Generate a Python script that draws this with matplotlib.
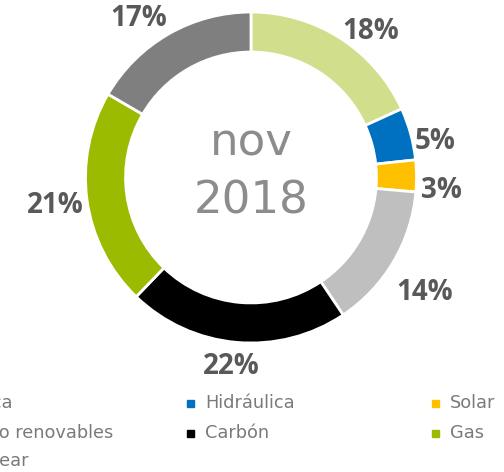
import numpy as np
import matplotlib.pyplot as plt
from matplotlib.patches import Rectangle

fuentes = ['Eólica', 'Hidráulica', 'Solar', 'Resto renovables', 'Carbón', 'Gas', 'Nuclear']
pct = [18.2, 5.1, 3.1, 14.2, 21.6, 21.2, 16.6]
colores = ['#d1df8c', '#0070c0', '#ffc000', '#bfbfbf', '#000000', '#9bbb00', '#7f7f7f']
titulo = ['nov', '2018']

W, H = 504, 472
cx, cy, R = 251, 177.5, 165.5  # donut centre / radius in pixels

fig = plt.figure(figsize=(W / 100, H / 100), dpi=100)
ax = fig.add_axes([(cx - R) / W, (H - cy - R) / H, 2 * R / W, 2 * R / H])

wedges, _ = ax.pie(pct, colors=colores, startangle=90, counterclock=False, radius=1,
                   wedgeprops=dict(width=0.242, edgecolor='white', linewidth=2))
# pie() resets the limits, so set them afterwards
ax.set_xlim(-1, 1)
ax.set_ylim(-1, 1)
ax.set_aspect('equal')
ax.axis('off')

# percentage labels just outside the ring, box pushed outward like Excel's best fit
for w, p in zip(wedges, pct):
    ang = np.deg2rad((w.theta1 + w.theta2) / 2)
    c, s = np.cos(ang), np.sin(ang)
    txt = f'{p:.0f}%'
    hw = 27 if len(txt) > 2 else 19.5  # half width in px
    hh = 11
    x = 1.03 * c + hw / R * np.clip(2 * c, -1, 1)
    y = (1.03 * s + hh / R * np.clip(2 * s, -1, 1)
         - 15 / R * max(c, 0) - 8 / R * max(-s, 0))
    ax.text(x, y, txt, ha='center', va='center',
            fontsize=20, fontweight='bold', family='Open Sans', color='#595959')

# centre text
ax.text(0, (cy - 155) / R, titulo[0], ha='center', va='baseline', fontsize=32.5, color='#8c8c8c')
ax.text(0, (cy - 213) / R, titulo[1], ha='center', va='baseline', fontsize=32.5, color='#8c8c8c')

# legend, three columns, partially cut off on the left like the original
col_x = [-58, 187, 432]
row_y = [403, 433, 461]
for i, (name, c) in enumerate(zip(fuentes, colores)):
    x, y = col_x[i % 3], row_y[i // 3]
    fig.add_artist(Rectangle((x / W, (H - y - 3.5) / H), 7 / W, 7 / H, color=c,
                             transform=fig.transFigure))
    fig.text((x + 18) / W, (H - y) / H, name, ha='left', va='center',
             fontsize=12.8, color='#7a7a7a')

fig.savefig('out.png', dpi=100)
